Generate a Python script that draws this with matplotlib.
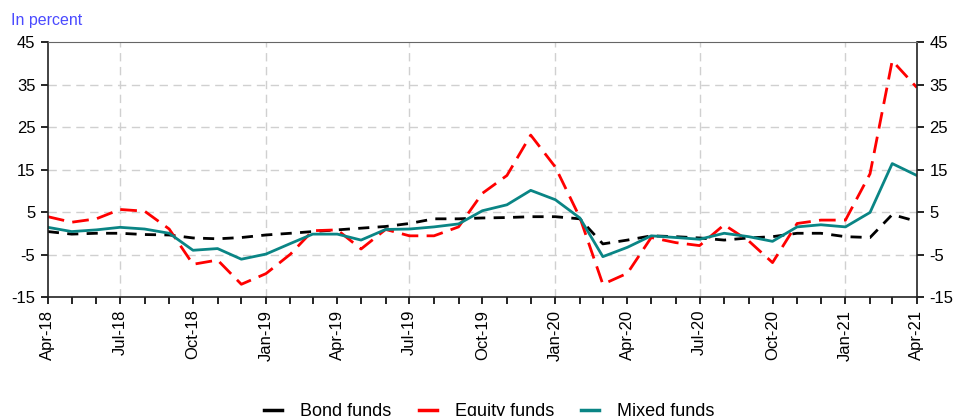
import numpy as np
import pandas as pd
import matplotlib.pyplot as plt
import matplotlib.dates as mdates
from matplotlib.lines import Line2D

plt.rcParams['font.family'] = ['Liberation Sans', 'DejaVu Sans']
plt.rcParams['axes.unicode_minus'] = False

# monthly data, Apr-18 .. Apr-21
months = pd.date_range('2018-04-01', '2021-04-01', freq='MS')

bond = [0.4, -0.2, 0.0, 0.0, -0.3, -0.4, -1.1, -1.3, -1.0, -0.4, 0.0, 0.4,
        0.8, 1.2, 1.6, 2.3, 3.4, 3.4, 3.6, 3.7, 3.9, 3.9, 3.4, -2.5,
        -1.6, -0.6, -0.8, -1.1, -1.6, -1.1, -0.8, 0.0, 0.0, -0.8, -1.0, 4.4, 2.8]
equity = [3.9, 2.6, 3.4, 5.6, 5.2, 1.0, -7.3, -6.3, -12.0, -9.5, -4.9, 0.6,
          0.8, -3.7, 0.9, -0.6, -0.6, 1.5, 9.4, 13.6, 23.1, 15.6, 3.7, -12.0,
          -9.4, -1.0, -2.2, -2.9, 2.0, -1.8, -6.9, 2.3, 3.1, 3.1, 14.0, 40.6, 34.3]
mixed = [1.4, 0.4, 0.8, 1.4, 1.0, 0.0, -4.0, -3.6, -6.1, -4.9, -2.4, -0.2,
         -0.2, -1.6, 0.9, 1.0, 1.5, 2.2, 5.3, 6.7, 10.1, 7.9, 3.6, -5.5,
         -3.3, -0.6, -1.0, -1.4, 0.0, -0.8, -1.9, 1.5, 2.0, 1.5, 4.9, 16.4, 13.6]

names = ['Bond funds', 'Equity funds', 'Mixed funds']
colors = ['black', '#ff0000', '#0a8585']
styles = [(0, (4, 3)), (0, (6, 3)), '-']
yticks = [-15, -5, 5, 15, 25, 35, 45]

fig = plt.figure(figsize=(9.58, 4.16), dpi=100)
ax = fig.add_axes([0.050, 0.286, 0.907, 0.613])

# grid: horizontal at each tick, vertical every six months
for y in yticks[1:-1]:
    ax.axhline(y, color='#d0d0d0', lw=1, ls=(0, (6, 4)), zorder=0)
for d in pd.date_range('2018-07-01', '2021-01-01', freq='6MS'):
    ax.axvline(d, color='#d0d0d0', lw=1, ls=(0, (6, 4)), zorder=0)

for vals, c, ls in zip([bond, equity, mixed], colors, styles):
    ax.plot(months, vals, color=c, lw=2, ls=ls)

ax.set_xlim(months[0], months[-1])
ax.set_ylim(-15, 45)
ax.set_yticks(yticks)
ax.tick_params(axis='y', labelsize=12, direction='out', length=5, width=1.2,
               right=True, labelright=True, pad=4)

ax.xaxis.set_major_locator(mdates.MonthLocator(bymonth=[1, 4, 7, 10]))
ax.xaxis.set_major_formatter(mdates.DateFormatter('%b-%y'))
ax.xaxis.set_minor_locator(mdates.MonthLocator())
ax.tick_params(axis='x', which='both', direction='out', length=5, width=1.2)
ax.tick_params(axis='x', labelsize=12, labelrotation=90, pad=4)

for s in ['left', 'right', 'bottom']:
    ax.spines[s].set_color('#222222')
    ax.spines[s].set_linewidth(1.2)
ax.spines['top'].set_color('#666666')

fig.text(0.012, 0.94, 'In percent', color='#4b4bff', fontsize=11.5)

# legend keys are solid short lines
handles = [Line2D([], [], color=c, lw=2.5) for c in colors]
fig.legend(handles, names, loc='center', bbox_to_anchor=(0.511, 0.010), ncol=3,
           frameon=False, fontsize=13, handlelength=1.0, handletextpad=1.0,
           columnspacing=1.5)

fig.savefig('out.png', dpi=100)
